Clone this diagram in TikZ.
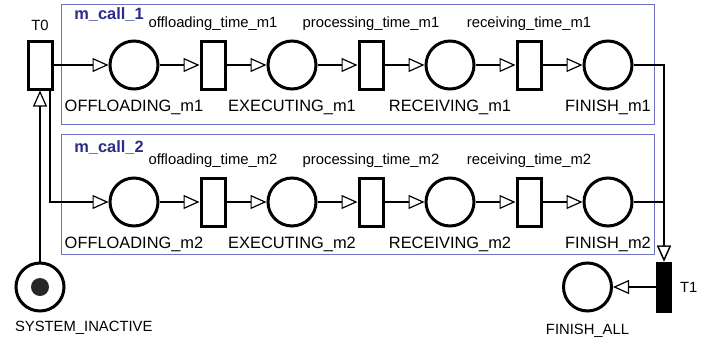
\documentclass[tikz,border=0pt]{standalone}
\usepackage{fontspec}
\setmainfont{Liberation Sans}
\usetikzlibrary{positioning,arrows.meta}
\definecolor{Frame}{HTML}{7272C4}
\definecolor{Title}{HTML}{2B2B8C}

\tikzset{
	place/.style={draw, circle, line width=1.5pt, minimum size=24pt, inner sep=0pt},
	trans/.style={draw, rectangle, line width=1.5pt, minimum width=12pt, minimum height=24pt, inner sep=0pt},
	fired/.style={trans, fill=black},
	token/.style={circle, fill=black!85, minimum size=9pt, inner sep=0pt},
	arc/.style={line width=1.2pt, -{Triangle[open,length=8pt,width=7pt,line width=0.6pt]}},
	lbig/.style={font=\fontsize{8.2}{10}\selectfont, label distance=1pt},
	lsmall/.style={font=\fontsize{7.4}{9}\selectfont, label distance=1pt},
	callbox/.style={draw=Frame, line width=0.5pt},
	calltitle/.style={anchor=west, text=Title, font=\fontsize{8.2}{10}\selectfont\bfseries, inner sep=0pt}
}

\begin{document}
\begin{tikzpicture}[x=0.5pt, y=-0.5pt, node distance=20pt]
	\useasboundingbox (0,0) rectangle (717,337);
	
	% ---------------------------------------------------------
	% CALL FRAMES
	% ---------------------------------------------------------
	
	\draw[callbox] (61,4) rectangle (654,124);
	\node[calltitle] (title1) at (74,15) {m\_call\_1};
	
	\draw[callbox] (61,134) rectangle (654,254);
	\node[calltitle] (title2) at (74,148) {m\_call\_2};
	
	% ---------------------------------------------------------
	% START
	% ---------------------------------------------------------
	
	\node[trans, label={[lsmall]above:T0}] (T0) at (40,65) {};
	
	\node[place, below=85.5pt of T0, label={[lsmall, anchor=north west, xshift=-16pt]below:SYSTEM\_INACTIVE}] (sysinact) {};
	\node[token] (tok) at (sysinact) {};
	
	% ---------------------------------------------------------
	% M_CALL_1
	% ---------------------------------------------------------
	
	\node[place, right=27.5pt of T0, label={[lbig]below:OFFLOADING\_m1}] (off1) {};
	\node[trans, right=of off1, label={[lsmall]above:offloading\_time\_m1}] (toff1) {};
	\node[place, right=of toff1, label={[lbig]below:EXECUTING\_m1}] (exe1) {};
	\node[trans, right=of exe1, label={[lsmall]above:processing\_time\_m1}] (tproc1) {};
	\node[place, right=of tproc1, label={[lbig]below:RECEIVING\_m1}] (rec1) {};
	\node[trans, right=of rec1, label={[lsmall]above:receiving\_time\_m1}] (trec1) {};
	\node[place, right=of trec1, label={[lbig]below:FINISH\_m1}] (fin1) {};
	
	% ---------------------------------------------------------
	% M_CALL_2
	% ---------------------------------------------------------
	
	\node[place, below=43pt of off1, label={[lbig]below:OFFLOADING\_m2}] (off2) {};
	\node[trans, right=of off2, label={[lsmall]above:offloading\_time\_m2}] (toff2) {};
	\node[place, right=of toff2, label={[lbig]below:EXECUTING\_m2}] (exe2) {};
	\node[trans, right=of exe2, label={[lsmall]above:processing\_time\_m2}] (tproc2) {};
	\node[place, right=of tproc2, label={[lbig]below:RECEIVING\_m2}] (rec2) {};
	\node[trans, right=of rec2, label={[lsmall]above:receiving\_time\_m2}] (trec2) {};
	\node[place, right=of trec2, label={[lbig]below:FINISH\_m2}] (fin2) {};
	
	% ---------------------------------------------------------
	% END
	% ---------------------------------------------------------
	
	\node[fired, minimum width=6.5pt, label={[lsmall, label distance=0.5pt]right:T1}] (T1) at (664,287) {};
	\node[place, left=21.5pt of T1, label={[lsmall, label distance=2.5pt]below:FINISH\_ALL}] (finall) {};
	
	% ---------------------------------------------------------
	% ARCS
	% ---------------------------------------------------------
	
	\draw[arc] (sysinact) -- (T0);
	\draw[arc] (T0) -- (off1);
	\draw[arc] ([xshift=5pt]T0.south) |- (off2);
	
	\draw[arc] (off1) -- (toff1);
	\draw[arc] (toff1) -- (exe1);
	\draw[arc] (exe1) -- (tproc1);
	\draw[arc] (tproc1) -- (rec1);
	\draw[arc] (rec1) -- (trec1);
	\draw[arc] (trec1) -- (fin1);
	
	\draw[arc] (off2) -- (toff2);
	\draw[arc] (toff2) -- (exe2);
	\draw[arc] (exe2) -- (tproc2);
	\draw[arc] (tproc2) -- (rec2);
	\draw[arc] (rec2) -- (trec2);
	\draw[arc] (trec2) -- (fin2);
	
	\draw[arc] (fin1) -| (T1);
	\draw[arc] (fin2) -| (T1);
	\draw[arc] (T1) -- (finall);
	
\end{tikzpicture}
\end{document}
